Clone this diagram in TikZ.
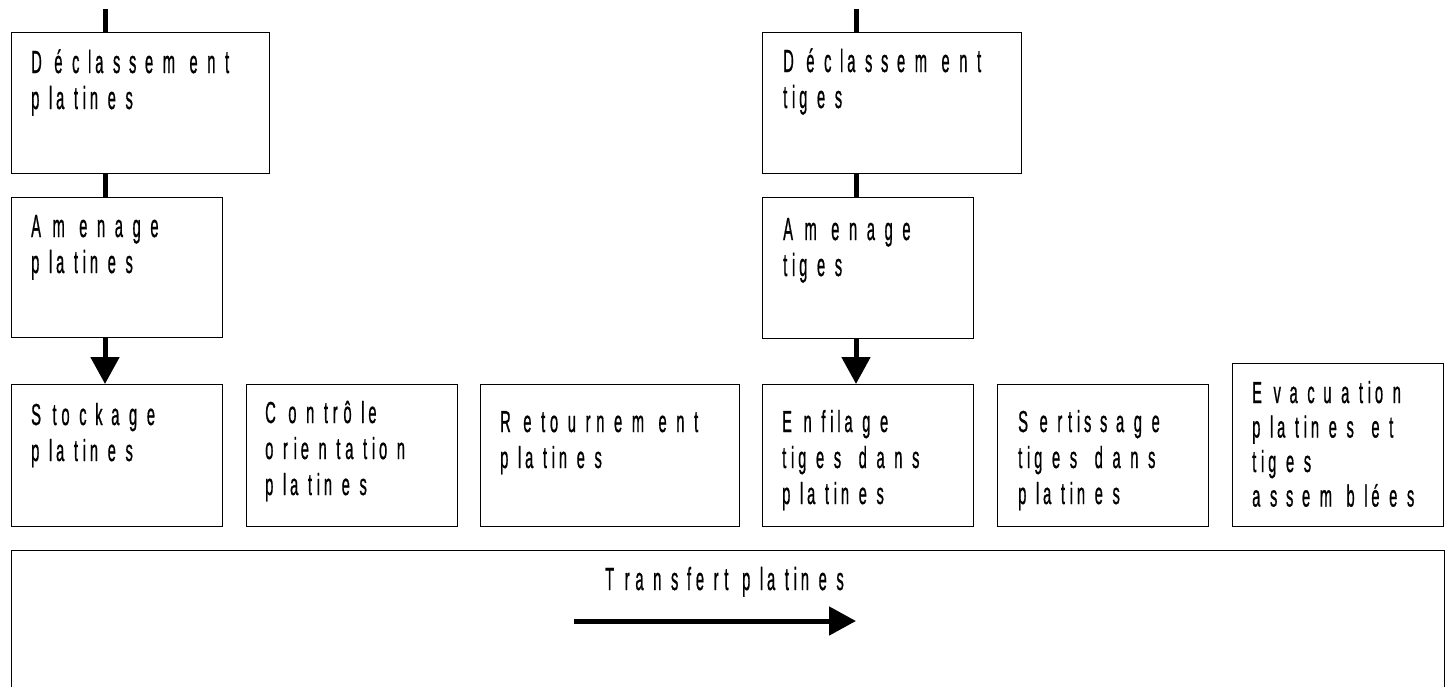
\documentclass[tikz,border=0pt]{standalone}
\usepackage{fontspec}
\setmainfont{Liberation Sans}[FakeBold=1.2]
\usepackage{graphicx}
\usetikzlibrary{arrows.meta}

% Spaced, condensed lettering: each glyph keeps its normal advance
% width but is drawn squeezed horizontally inside it.
\newcommand\spv{1}
\ExplSyntaxOn
\box_new:N \l__sp_glyph_box
\NewDocumentCommand \sptext { m }
  {
    \seq_set_split:Nnn \l_tmpa_seq { ~ } { #1 }
    \bool_set_false:N \l_tmpa_bool
    \seq_map_inline:Nn \l_tmpa_seq
      {
        \bool_if:NT \l_tmpa_bool { \skip_horizontal:n { 0.278em } }
        \bool_set_true:N \l_tmpa_bool
        \tl_map_inline:nn { ##1 }
          {
            \hbox_set:Nn \l__sp_glyph_box { ####1 }
            \hbox_to_wd:nn { \box_wd:N \l__sp_glyph_box }
              { \scalebox{0.46}[\spv]{####1} \hss }
          }
      }
  }
\ExplSyntaxOff
\newcommand\tline[1]{\hbox{\sptext{#1}}}
\newcommand\stack[2][36]{\vtop{\baselineskip=#1pt\lineskiplimit=-100pt\lineskip=0pt #2}}

\tikzset{
  box/.style={draw, line width=1.3pt, inner sep=0pt, anchor=north west},
  lbl/.style={inner sep=0pt, anchor=base west, font=\fontsize{32}{36}\selectfont},
  link/.style={line width=5pt},
  flow/.style={line width=5pt, -{Triangle[width=28pt,length=27pt]}},
}

\begin{document}
\begin{tikzpicture}[x=1pt, y=-1pt]
\useasboundingbox (0,0) rectangle (1451,686);
\clip (0,0) rectangle (1451,686);

% process boxes
\node[box, minimum width=258pt, minimum height=141pt] (d1) at (11,32) {};
\node[box, minimum width=211pt, minimum height=140pt] (a1) at (11,197) {};
\node[box, minimum width=259pt, minimum height=141pt] (d2) at (762,32) {};
\node[box, minimum width=211pt, minimum height=141pt] (a2) at (762,197) {};
\node[box, minimum width=211pt, minimum height=142pt] (s1) at (11,384) {};
\node[box, minimum width=211pt, minimum height=142pt] (c1) at (246,384) {};
\node[box, minimum width=259pt, minimum height=142pt] (r1) at (480,384) {};
\node[box, minimum width=211pt, minimum height=142pt] (e1) at (762,384) {};
\node[box, minimum width=211pt, minimum height=142pt] (t1) at (997,384) {};
\node[box, minimum width=211pt, minimum height=163pt] (v1) at (1232,363) {};
\node[box, minimum width=1433pt, minimum height=200pt] (tr) at (11,550) {};

% labels
\node[lbl] (d1t) at ([shift={(20,41)}]d1.north west) {\stack{\tline{Déclassement}\tline{platines}}};
\node[lbl] (a1t) at ([shift={(20,40)}]a1.north west) {\stack{\tline{Amenage}\tline{platines}}};
\node[lbl] (d2t) at ([shift={(21,40)}]d2.north west) {\stack{\tline{Déclassement}\tline{tiges}}};
\node[lbl] (a2t) at ([shift={(21,43)}]a2.north west) {\stack{\tline{Amenage}\tline{tiges}}};
\begin{scope}[lbl/.append style={font=\fontsize{32}{36}\selectfont\def\spv{0.95}}]
\node[lbl] (s1t) at ([shift={(20,41)}]s1.north west) {\stack{\tline{Stockage}\tline{platines}}};
\node[lbl] (c1t) at ([shift={(19,39)}]c1.north west) {\stack{\tline{Contrôle}\tline{orientation}\tline{platines}}};
\node[lbl] (r1t) at ([shift={(20,48)}]r1.north west) {\stack{\tline{Retournement}\tline{platines}}};
\node[lbl] (e1t) at ([shift={(20,48)}]e1.north west) {\stack{\tline{Enfilage}\tline{tiges dans}\tline{platines}}};
\node[lbl] (t1t) at ([shift={(21,48)}]t1.north west) {\stack{\tline{Sertissage}\tline{tiges dans}\tline{platines}}};
\node[lbl] (v1t) at ([shift={(20,40)}]v1.north west) {\stack[34.5]{\tline{Evacuation}\tline{platines et}\tline{tiges}\tline{assemblées}}};
\end{scope}
\node[lbl] (trt) at ([shift={(594,40)}]tr.north west) {\sptext{Transfert platines}};

% feed lines
\coordinate (L) at (105,9);
\coordinate (R) at (856,9);
\draw[link] (L) -- (L |- d1.north);
\draw[link] (d1.south -| L) -- (a1.north -| L);
\draw[flow] (a1.south -| L) -- (s1.north -| L);
\draw[link] (R) -- (R |- d2.north);
\draw[link] (d2.south -| R) -- (a2.north -| R);
\draw[flow] (a2.south -| R) -- (e1.north -| R);

% transfer direction
\coordinate (ta) at (574,621);
\coordinate (tb) at (856,621);
\draw[flow] (ta) -- (tb);
\end{tikzpicture}
\end{document}
